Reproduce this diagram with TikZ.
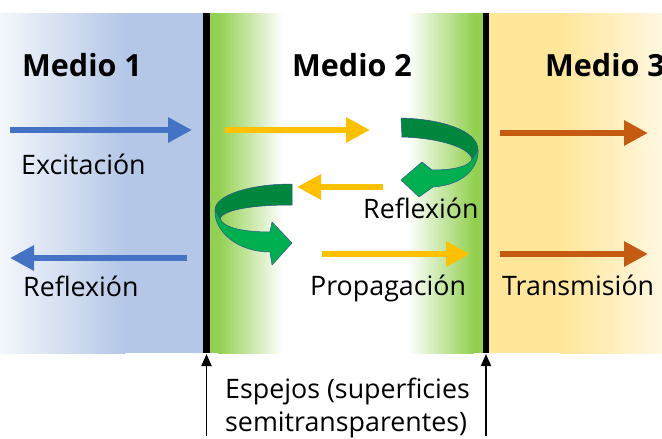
\documentclass[tikz,border=0pt]{standalone}
\usepackage{fontspec}
\setmainfont{Open Sans}
\usetikzlibrary{arrows.meta}

\definecolor{paneblue}{RGB}{180,199,231}
\definecolor{panegreen}{RGB}{146,208,80}
\definecolor{paneorange}{RGB}{255,230,153}
\definecolor{arrblue}{RGB}{68,114,196}
\definecolor{arryellow}{RGB}{255,192,0}
\definecolor{arrorange}{RGB}{197,90,17}
\definecolor{ribbondark}{RGB}{0,135,62}
\definecolor{ribbonlight}{RGB}{0,176,80}
\definecolor{ribbonedge}{RGB}{47,82,143}

\tikzset{
  blockarrow/.style={line width=6pt, -{Triangle[width=24pt,length=24pt]}},
  mirrorline/.style={fill=black},
  label/.style={font=\fontsize{26.8}{32}\selectfont, anchor=base west, inner sep=0pt},
  title/.style={font=\fontsize{30.5}{36}\selectfont\bfseries, anchor=base west, inner sep=0pt},
  pointer/.style={line width=1.8pt, -{Triangle[width=10pt,length=12pt]}},
  ribbonback/.style={fill=ribbondark, draw=ribbonedge, line width=0.5pt, line join=round},
  ribbonfront/.style={fill=ribbonlight, draw=ribbonedge, line width=0.5pt, line join=round}
}

\begin{document}
\begin{tikzpicture}[x=1pt,y=-1pt]
\useasboundingbox (0,0) rectangle (662,439);
\clip (0,0) rectangle (662,439);
\fill[white] (0,0) rectangle (662,439);

% medium 1 (blue)
\shade[left color=paneblue!15, right color=paneblue] (0,13) rectangle (125,353);
\fill[paneblue] (125,13) rectangle (203,353);

% medium 2 (green edges near the mirrors)
\fill[panegreen] (209,13) rectangle (218,353);
\shade[left color=panegreen, right color=white] (218,13) rectangle (283,353);
\shade[left color=white, right color=panegreen] (408,13) rectangle (474,353);
\fill[panegreen] (474,13) rectangle (483,353);

% medium 3 (orange)
\fill[paneorange] (489,13) rectangle (560,353);
\shade[left color=paneorange, right color=paneorange!30] (560,13) rectangle (662,353);

% mirrors
\fill[mirrorline] (203,13) rectangle (210,353);
\fill[mirrorline] (483,13) rectangle (489,353);
\coordinate (mirrL) at (206.5,354);
\coordinate (mirrR) at (486,354);

% titles
\node[title] (m1) at (22,76) {Medio 1};
\node[title] (m2) at (292,76) {Medio 2};
\node[title] (m3) at (545,76) {Medio 3};

% medium 1 arrows
\coordinate (exA) at (10,130);
\coordinate (exB) at (192,130);
\draw[blockarrow, arrblue] (exA) -- (exB);
\coordinate (rfA) at (187,258);
\coordinate (rfB) at (10,258);
\draw[blockarrow, arrblue] (rfA) -- (rfB);
\node[label] (exc) at (21,174) {Excitación};
\node[label] (ref1) at (23,296) {Reflexión};

% medium 2 arrows
\coordinate (y1A) at (225,130);
\coordinate (y1B) at (370,130);
\draw[blockarrow, arryellow] (y1A) -- (y1B);
\coordinate (y2A) at (383,187);
\coordinate (y2B) at (297,187);
\draw[blockarrow, arryellow] (y2A) -- (y2B);
\coordinate (y3A) at (322,254);
\coordinate (y3B) at (470,254);
\draw[blockarrow, arryellow] (y3A) -- (y3B);
\node[label] (ref2) at (363,218) {Reflexión};
\node[label] (prop) at (310,295) {Propagación};

% medium 3 arrows
\coordinate (o1A) at (500,133);
\coordinate (o1B) at (648,133);
\draw[blockarrow, arrorange] (o1A) -- (o1B);
\coordinate (o2A) at (500,254);
\coordinate (o2B) at (648,254);
\draw[blockarrow, arrorange] (o2A) -- (o2B);
\node[label] (trans) at (502,295) {Transmisión};

% curved ribbon arrow at the right mirror
\fill[ribbonfront] (478,150) .. controls (479,166) and (465,185) .. (433,187)
  -- (419,197) -- (401,180) -- (422,162) -- (432,170)
  .. controls (455,170) and (470,166) .. (472,159) -- cycle;
\fill[ribbonback] (401,118) .. controls (440,119) and (478,130) .. (478,150)
  -- (472,159) .. controls (470,148) and (440,138) .. (402,137) -- cycle;

% curved ribbon arrow at the left mirror
\fill[ribbonfront] (215,210) .. controls (214,232) and (238,252) .. (270,252)
  -- (272,265) -- (292,243) -- (272,222) -- (270,232)
  .. controls (245,232) and (222,228) .. (220,218) -- cycle;
\fill[ribbonback] (292,184) .. controls (250,184) and (215,195) .. (215,210)
  -- (220,218) .. controls (225,210) and (250,205) .. (292,205) -- cycle;

% mirror caption
\node[label] (capA) at (225,398) {Espejos (superficies};
\node[label] (capB) at (225,431) {semitransparentes)};
\coordinate (ptL) at (206.5,436);
\coordinate (ptR) at (486,436);
\draw[pointer] (ptL) -- (mirrL);
\draw[pointer] (ptR) -- (mirrR);
\end{tikzpicture}
\end{document}
